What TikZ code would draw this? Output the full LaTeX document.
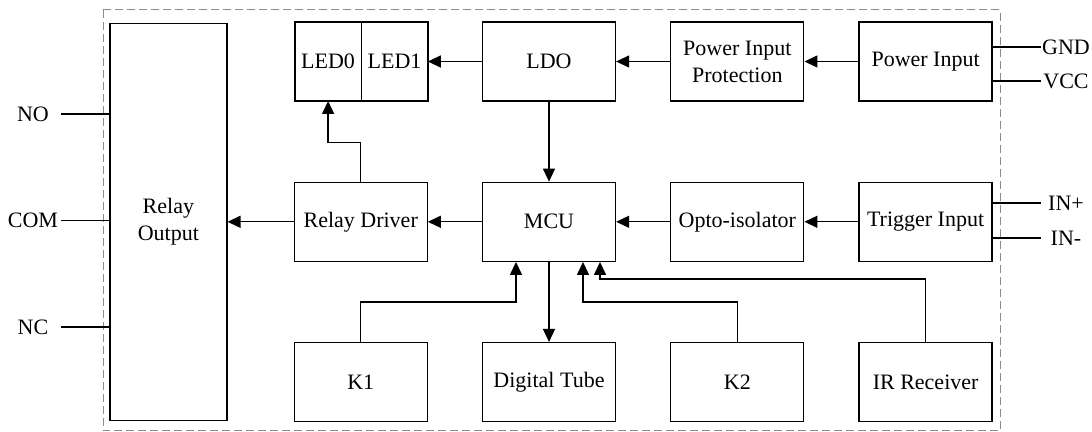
\documentclass[tikz,border=0pt]{standalone}
\usepackage{fontspec}
\setmainfont{Liberation Serif}
\usetikzlibrary{arrows.meta, positioning}

\begin{document}
\begin{tikzpicture}[
    node distance=40pt and 27pt,
    box/.style={rectangle, draw, align=center, line width=0.65pt,
                font=\fontsize{11pt}{13.5pt}\selectfont,
                minimum height=39.5pt, minimum width=66.5pt, inner sep=1pt},
    ledbox/.style={box, minimum width=33.25pt, outer sep=0pt},
    tallbox/.style={box, minimum width=58.5pt, minimum height=198.5pt},
    termlbl/.style={font=\fontsize{11pt}{13.5pt}\selectfont, inner sep=0pt},
    arrow/.style={-{Triangle[length=6.5pt,width=6pt]}, line width=0.7pt},
    wire/.style={line width=0.7pt},
    dashframe/.style={draw=gray!90, dash pattern=on 4pt off 2pt, line width=0.5pt}
]

\useasboundingbox (0,0) rectangle (546pt,-216pt);
\draw[dashframe] (51.5pt,-5pt) rectangle (500pt,-215.5pt);

% top row
\node[box] (ldo) at (274.5pt,-30.75pt) {LDO};
\node[box,    right=of ldo]   (pip)  {Power Input\\Protection};
\node[box,    right=of pip]   (pwr)  {Power Input};
\node[ledbox, left=of ldo]    (led1) {LED1};
\node[ledbox, left=0pt of led1] (led0) {LED0};

% middle row
\node[box,     below=of ldo]      (mcu)   {MCU};
\node[box,     right=of mcu]      (opto)  {Opto-isolator};
\node[box,     right=of opto]     (trig)  {Trigger Input};
\node[box,     left=of mcu]       (drv)   {Relay Driver};
\node[tallbox, left=33pt of drv]  (relay) {Relay\\Output};

% bottom row
\node[box, below=of mcu]   (tube) {Digital Tube};
\node[box, left=of tube]   (k1)   {K1};
\node[box, right=of tube]  (k2)   {K2};
\node[box, right=of k2]    (ir)   {IR Receiver};

% terminals
\node[termlbl] (no)  at (16.5pt,-57pt)     {NO};
\node[termlbl] (com) at (16.5pt,-110.25pt) {COM};
\node[termlbl] (nc)  at (16.5pt,-163.5pt)  {NC};
\coordinate (noend)  at (30.5pt,-57pt);
\coordinate (comend) at (30.5pt,-110.25pt);
\coordinate (ncend)  at (30.5pt,-163.5pt);

\node[termlbl] (gnd) at (533pt,-23.5pt)  {GND};
\node[termlbl] (vcc) at (533pt,-40.5pt)  {VCC};
\node[termlbl] (inp) at (533pt,-101.5pt) {IN+};
\node[termlbl] (inm) at (533pt,-119pt)   {IN-};
\coordinate (gndend) at (520.5pt,-23.5pt);
\coordinate (vccend) at (520.5pt,-40.5pt);
\coordinate (inpend) at (520.5pt,-101.5pt);
\coordinate (inmend) at (520.5pt,-119pt);

\draw[wire] (noend)  -- (noend -| relay.west);
\draw[wire] (comend) -- (comend -| relay.west);
\draw[wire] (ncend)  -- (ncend -| relay.west);
\draw[wire] (gndend -| pwr.east)  -- (gndend);
\draw[wire] (vccend -| pwr.east)  -- (vccend);
\draw[wire] (inpend -| trig.east) -- (inpend);
\draw[wire] (inmend -| trig.east) -- (inmend);

% signal flow
\draw[arrow] (pwr)  -- (pip);
\draw[arrow] (pip)  -- (ldo);
\draw[arrow] (ldo)  -- (led1);
\draw[arrow] (ldo)  -- (mcu);
\draw[arrow] (trig) -- (opto);
\draw[arrow] (opto) -- (mcu);
\draw[arrow] (mcu)  -- (drv);
\draw[arrow] (drv)  -- (relay);
\draw[arrow] (mcu)  -- (tube);
\draw[arrow] (drv.north) -- ++(0,19.5pt) -| (led0.south);
\draw[arrow] (k1.north)  -- ++(0,20pt)   -| ([xshift=-16.5pt]mcu.south);
\draw[arrow] (k2.north)  -- ++(0,20pt)   -| ([xshift=17pt]mcu.south);
\draw[arrow] (ir.north)  -- ++(0,31.5pt) -| ([xshift=25.5pt]mcu.south);

\end{tikzpicture}
\end{document}
